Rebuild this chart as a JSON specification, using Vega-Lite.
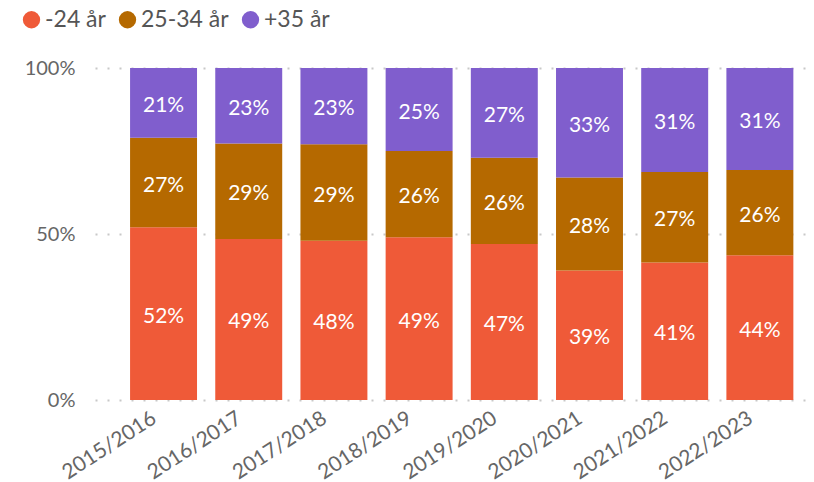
{
  "$schema": "https://vega.github.io/schema/vega-lite/v6.json",
  "width": 711,
  "height": 332,
  "autosize": {"type": "none"},
  "padding": {"left": 95, "top": 68, "right": 8, "bottom": 82},
  "config": {"view": {"stroke": null}, "font": "Lato"},
  "data": {"values": [
    {"year": "2015/2016", "group": "-24 år", "order": 1, "value": 52},
    {"year": "2015/2016", "group": "25-34 år", "order": 2, "value": 27},
    {"year": "2015/2016", "group": "+35 år", "order": 3, "value": 21},
    {"year": "2016/2017", "group": "-24 år", "order": 1, "value": 49},
    {"year": "2016/2017", "group": "25-34 år", "order": 2, "value": 29},
    {"year": "2016/2017", "group": "+35 år", "order": 3, "value": 23},
    {"year": "2017/2018", "group": "-24 år", "order": 1, "value": 48},
    {"year": "2017/2018", "group": "25-34 år", "order": 2, "value": 29},
    {"year": "2017/2018", "group": "+35 år", "order": 3, "value": 23},
    {"year": "2018/2019", "group": "-24 år", "order": 1, "value": 49},
    {"year": "2018/2019", "group": "25-34 år", "order": 2, "value": 26},
    {"year": "2018/2019", "group": "+35 år", "order": 3, "value": 25},
    {"year": "2019/2020", "group": "-24 år", "order": 1, "value": 47},
    {"year": "2019/2020", "group": "25-34 år", "order": 2, "value": 26},
    {"year": "2019/2020", "group": "+35 år", "order": 3, "value": 27},
    {"year": "2020/2021", "group": "-24 år", "order": 1, "value": 39},
    {"year": "2020/2021", "group": "25-34 år", "order": 2, "value": 28},
    {"year": "2020/2021", "group": "+35 år", "order": 3, "value": 33},
    {"year": "2021/2022", "group": "-24 år", "order": 1, "value": 41},
    {"year": "2021/2022", "group": "25-34 år", "order": 2, "value": 27},
    {"year": "2021/2022", "group": "+35 år", "order": 3, "value": 31},
    {"year": "2022/2023", "group": "-24 år", "order": 1, "value": 44},
    {"year": "2022/2023", "group": "25-34 år", "order": 2, "value": 26},
    {"year": "2022/2023", "group": "+35 år", "order": 3, "value": 31}
  ]},
  "transform": [
    {"stack": "value", "groupby": ["year"], "sort": [{"field": "order", "order": "ascending"}], "offset": "normalize", "as": ["y0", "y1"]},
    {"calculate": "(datum.y0 + datum.y1) / 2", "as": "ymid"},
    {"calculate": "datum.value + '%'", "as": "label"}
  ],
  "encoding": {
    "x": {
      "field": "year", "type": "nominal", "title": null,
      "scale": {"paddingInner": 0.214, "paddingOuter": 0.28, "align": 0.735},
      "axis": {"labelAngle": -33, "labelAlign": "right", "labelBaseline": "top", "ticks": false, "domain": false, "grid": false, "labelFontSize": 21, "labelColor": "#666666", "labelPadding": 7, "labelOffset": -15}
    }
  },
  "layer": [
    {
      "mark": {"type": "bar"},
      "encoding": {
        "y": {"field": "y0", "type": "quantitative", "title": null, "scale": {"domain": [0, 1]},
          "axis": {"values": [0, 0.5, 1], "format": ".0%", "labelFontSize": 20, "labelColor": "#666666", "ticks": false, "domain": false, "gridDash": [2, 10], "gridColor": "#c8c8c8", "gridWidth": 2, "labelPadding": 20}},
        "y2": {"field": "y1"},
        "color": {"field": "group", "type": "nominal",
          "scale": {"domain": ["-24 år", "25-34 år", "+35 år"], "range": ["#EF5A38", "#B56900", "#805ECD"]},
          "legend": {"title": null, "orient": "none", "legendX": -75, "legendY": -60, "direction": "horizontal", "symbolType": "circle", "symbolSize": 300, "symbolStrokeWidth": 0, "labelFontSize": 23, "labelColor": "#555555", "columnPadding": 10, "labelOffset": 2}
        }
      }
    },
    {
      "mark": {"type": "text", "color": "white", "fontSize": 21, "baseline": "middle", "dy": 3},
      "encoding": {
        "y": {"field": "ymid", "type": "quantitative"},
        "text": {"field": "label", "type": "nominal"}
      }
    }
  ]
}
